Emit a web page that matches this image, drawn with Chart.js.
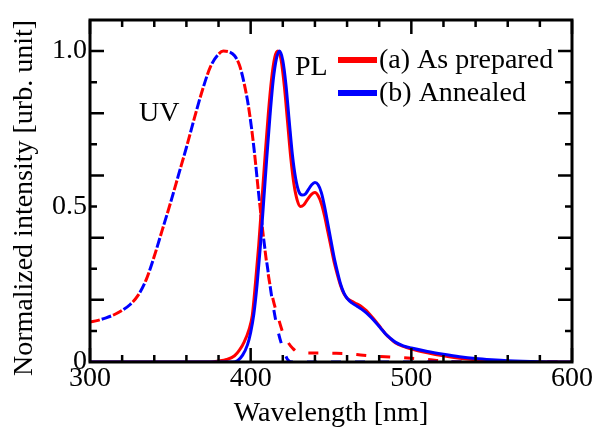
<!DOCTYPE html>
<html>
<head>
<meta charset="utf-8">
<script src="https://cdn.jsdelivr.net/npm/chart.js@4.4.0/dist/chart.umd.min.js"></script>
<style>
html,body{margin:0;padding:0;background:#fff;}
canvas{display:block;}
</style>
</head>
<body>
<canvas id="c" width="595" height="428"></canvas>
<script>
// ---- data ----
const xTitle = 'Wavelength [nm]';
const yTitle = 'Normalized intensity [urb. unit]';
const xTickValues = [300, 400, 500, 600];
const xTickLabels = ['300', '400', '500', '600'];
const yTickValues = [0, 0.5, 1.0];
const yTickLabels = ['0', '0.5', '1.0'];
const xMajorTicks = [300, 400, 500, 600];
const xMinorTicks = [320, 340, 360, 380, 420, 440, 460, 480, 520, 540, 560, 580];
const yMajorTicks = [0.2, 0.4, 0.6, 0.8, 1.0];
const yMinorTicks = [0.1, 0.3, 0.5, 0.7, 0.9];
const legendLabels = ['(a) As prepared', '(b) Annealed'];
const curveLabels = ['UV', 'PL'];

// UV absorption (dashed)
const uvWlA = [300,305,310,315,320,325,330,335,340,345,350,355,360,365,370,375,380,383,387,390,393,396,399,402,405,408,411,414,417,420,423,426,430,440,450,460,470,480,490,500,510,520,530,600];
const uvA   = [0.129,0.134,0.142,0.152,0.166,0.185,0.215,0.265,0.34,0.425,0.51,0.60,0.69,0.785,0.875,0.95,0.99,1.0,0.997,0.985,0.955,0.895,0.81,0.69,0.54,0.40,0.28,0.2,0.145,0.095,0.065,0.045,0.03,0.029,0.028,0.027,0.022,0.018,0.015,0.012,0.008,0.003,0,0];
const uvWlB = [300,305,310,315,320,325,330,335,340,345,350,355,360,365,370,375,380,383,387,390,393,396,399,402,405,408,411,414,417,420,423,426,600];
const uvB   = [0.129,0.134,0.142,0.152,0.166,0.185,0.215,0.265,0.34,0.425,0.51,0.60,0.69,0.785,0.875,0.95,0.99,1.0,0.997,0.985,0.955,0.895,0.81,0.69,0.54,0.40,0.285,0.18,0.1,0.045,0.008,0,0];

// PL emission (solid)
const plWlA = [300,375,380,385,390,393,396,399,401,403,405,407,409,411,413,415,417,419,421,423,425,427,429,431,433,435,438,440,442,444,446,448,450,452,454,456,458,460,463,466,469,472,475,478,481,484,487,490,495,500,510,520,530,540,550,560,580,600];
const plA   = [0,0,0.003,0.008,0.02,0.038,0.065,0.105,0.15,0.255,0.375,0.52,0.665,0.80,0.91,0.98,1.0,0.97,0.885,0.77,0.655,0.57,0.52,0.50,0.505,0.52,0.54,0.545,0.535,0.51,0.47,0.42,0.37,0.32,0.28,0.245,0.22,0.205,0.195,0.187,0.178,0.165,0.148,0.13,0.11,0.09,0.075,0.062,0.05,0.042,0.03,0.02,0.012,0.007,0.004,0.002,0,0];
const plWlB = [300,389,392,395,398,400,402,404,406,408,410,412,414,416,418,420,422,424,426,428,430,432,434,436,438,440,442,444,446,448,450,452,454,456,458,460,463,466,469,472,475,478,481,484,487,490,495,500,510,520,530,540,550,560,580,600];
const plB   = [0,0,0.005,0.022,0.055,0.095,0.155,0.25,0.37,0.51,0.655,0.79,0.905,0.975,1.0,0.97,0.89,0.775,0.665,0.59,0.548,0.537,0.54,0.555,0.57,0.577,0.57,0.545,0.50,0.445,0.39,0.335,0.29,0.25,0.222,0.205,0.19,0.18,0.17,0.158,0.143,0.126,0.108,0.09,0.076,0.064,0.052,0.045,0.034,0.025,0.017,0.011,0.007,0.004,0.001,0];

const RED = '#ff0000', BLUE = '#0000ff';
const FONT = '"Liberation Serif", "Times New Roman", serif';
const pts = (xs, ys) => xs.map((x, i) => ({x: x, y: ys[i]}));

const decorPlugin = {
  id: 'decor',
  afterDraw(chart) {
    const ctx = chart.ctx, a = chart.chartArea;
    const xs = chart.scales.x, ys = chart.scales.y;
    ctx.save();
    ctx.strokeStyle = '#000';
    ctx.lineWidth = 2.5;
    ctx.lineCap = 'butt';
    const tickX = (v, len) => {
      const px = xs.getPixelForValue(v);
      ctx.beginPath();
      ctx.moveTo(px, a.bottom); ctx.lineTo(px, a.bottom - len);
      ctx.moveTo(px, a.top); ctx.lineTo(px, a.top + len);
      ctx.stroke();
    };
    const tickY = (v, len) => {
      const py = ys.getPixelForValue(v);
      ctx.beginPath();
      ctx.moveTo(a.left, py); ctx.lineTo(a.left + len, py);
      ctx.moveTo(a.right, py); ctx.lineTo(a.right - len, py);
      ctx.stroke();
    };
    xMajorTicks.forEach(v => tickX(v, 14));
    xMinorTicks.forEach(v => tickX(v, 7));
    yMajorTicks.forEach(v => tickY(v, 14));
    yMinorTicks.forEach(v => tickY(v, 7));
    // frame
    ctx.lineWidth = 3;
    ctx.strokeRect(a.left, a.top, a.right - a.left, a.bottom - a.top);

    ctx.fillStyle = '#000';
    ctx.font = '28px ' + FONT;
    ctx.textBaseline = 'middle';

    // axis titles
    ctx.textAlign = 'center';
    ctx.fillText(xTitle, (a.left + a.right) / 2, 414);
    ctx.save();
    ctx.translate(25, 198);
    ctx.rotate(-Math.PI / 2);
    ctx.fillText(yTitle, 0, 0);
    ctx.restore();

    // curve labels
    ctx.textAlign = 'left';
    ctx.fillText(curveLabels[0], 139, 114);
    ctx.fillText(curveLabels[1], 295, 68);

    // legend
    const cols = [RED, BLUE];
    const ly = [60, 93];
    for (let i = 0; i < 2; i++) {
      ctx.strokeStyle = cols[i];
      ctx.lineWidth = 6;
      ctx.beginPath();
      ctx.moveTo(338, ly[i]); ctx.lineTo(377, ly[i]);
      ctx.stroke();
      ctx.fillStyle = '#000';
      ctx.fillText(legendLabels[i], 379, ly[i] + 1);
    }
    ctx.restore();
  }
};

new Chart(document.getElementById('c'), {
  type: 'line',
  data: {
    datasets: [
      {label: legendLabels[1] + ' PL', data: pts(plWlB, plB), borderColor: BLUE, borderWidth: 3},
      {label: legendLabels[0] + ' PL', data: pts(plWlA, plA), borderColor: RED, borderWidth: 3},
      {label: legendLabels[1] + ' UV', data: pts(uvWlB, uvB), borderColor: BLUE, borderWidth: 3, borderDash: [10, 14], borderDashOffset: 12},
      {label: legendLabels[0] + ' UV', data: pts(uvWlA, uvA), borderColor: RED, borderWidth: 3, borderDash: [10, 14], borderDashOffset: 0}
    ]
  },
  options: {
    responsive: false,
    animation: false,
    devicePixelRatio: 1,
    elements: {
      point: {radius: 0},
      line: {cubicInterpolationMode: 'monotone', fill: false}
    },
    layout: {padding: {top: 20, right: 23, bottom: 0, left: 0}},
    plugins: {legend: {display: false}, tooltip: {enabled: false}},
    scales: {
      x: {
        type: 'linear', min: 300, max: 600,
        grid: {display: false, drawTicks: false},
        border: {display: false},
        ticks: {color: '#000', font: {family: FONT, size: 28}, padding: 0, maxRotation: 0,
                callback: (v) => { const i = xTickValues.indexOf(v); return i >= 0 ? xTickLabels[i] : ''; }},
        afterBuildTicks: (s) => { s.ticks = xTickValues.map(v => ({value: v})); },
        afterFit: (s) => { s.height = 66; },
        title: {display: false, text: xTitle}
      },
      y: {
        type: 'linear', min: 0, max: 1.1,
        grid: {display: false, drawTicks: false},
        border: {display: false},
        ticks: {color: '#000', font: {family: FONT, size: 28}, padding: 3,
                callback: (v) => { const i = yTickValues.indexOf(v); return i >= 0 ? yTickLabels[i] : ''; }},
        afterBuildTicks: (s) => { s.ticks = yTickValues.map(v => ({value: v})); },
        afterFit: (s) => { s.width = 90; },
        title: {display: false, text: yTitle}
      }
    }
  },
  plugins: [decorPlugin]
});
</script>
</body>
</html>
